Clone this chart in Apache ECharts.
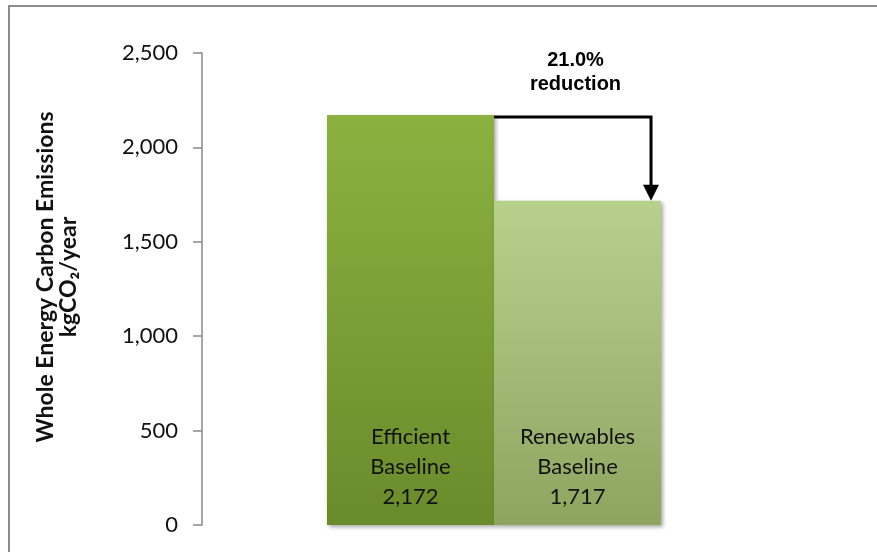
<!DOCTYPE html>
<html>
<head>
<meta charset="utf-8">
<script src="https://cdn.jsdelivr.net/npm/echarts@6/dist/echarts.min.js"></script>
<style>
  html, body { margin: 0; padding: 0; background: #fff; }
  #chart { width: 877px; height: 552px; }
</style>
</head>
<body>
<div id="chart"></div>
<script>
// Annual whole-energy carbon emissions for the two baselines
const seriesNames = ['Efficient\nBaseline', 'Renewables\nBaseline'];
const emissions = [2172, 1717];
const reductionPct = 21.0;
const yTicks = [0, 500, 1000, 1500, 2000, 2500];

const FONT = 'Lato, "Open Sans", sans-serif';
const fmt = v => v.toLocaleString('en-US');

const gradients = [
  ['#8cb140', '#6a8b2b'],
  ['#b7d18c', '#8ea560']
];

const chart = echarts.init(document.getElementById('chart'), null, { renderer: 'canvas' });

const series = emissions.map((v, i) => ({
  name: seriesNames[i],
  type: 'bar',
  data: [v],
  barGap: '0%',
  barCategoryGap: '42.8%',
  itemStyle: {
    color: new echarts.graphic.LinearGradient(0, 0, 0, 1, [
      { offset: 0, color: gradients[i][0] },
      { offset: 1, color: gradients[i][1] }
    ]),
    shadowColor: 'rgba(0,0,0,0.35)',
    shadowBlur: 4,
    shadowOffsetX: 2,
    shadowOffsetY: 2
  },
  label: {
    show: true,
    position: 'insideBottom',
    distance: 13,
    formatter: p => p.seriesName + '\n' + fmt(p.value),
    fontFamily: FONT,
    fontSize: 22,
    lineHeight: 30,
    color: '#111'
  }
}));

chart.setOption({
  animation: false,
  backgroundColor: '#fff',
  grid: { left: 202, right: 91, top: 53, bottom: 27, containLabel: false },
  xAxis: {
    type: 'category',
    data: ['Baselines'],
    axisLine: { show: false },
    axisTick: { show: false },
    axisLabel: { show: false }
  },
  yAxis: {
    type: 'value',
    min: yTicks[0],
    max: yTicks[yTicks.length - 1],
    interval: yTicks[1] - yTicks[0],
    splitLine: { show: false },
    axisLine: { show: true, lineStyle: { color: '#888', width: 1.5 } },
    axisTick: { show: true, inside: false, length: 9, lineStyle: { color: '#888', width: 1.5 } },
    axisLabel: {
      margin: 24,
      fontFamily: FONT,
      fontSize: 22,
      color: '#111',
      formatter: v => fmt(v)
    }
  },
  series: series
});

// Frame, axis title and the reduction arrow between the two bar tops
function drawOverlay() {
  const l0 = chart.getModel().getSeriesByIndex(0).getData().getItemLayout(0);
  const l1 = chart.getModel().getSeriesByIndex(1).getData().getItemLayout(0);
  const yTop = chart.convertToPixel({ yAxisIndex: 0 }, emissions[0]);
  const yLow = chart.convertToPixel({ yAxisIndex: 0 }, emissions[1]);
  const xStart = l0.x + l0.width - 6;
  const xEnd = l1.x + l1.width - 10;
  const titleCy = (chart.convertToPixel({ yAxisIndex: 0 }, yTicks[0]) +
                   chart.convertToPixel({ yAxisIndex: 0 }, yTicks[yTicks.length - 1])) / 2 - 12;

  chart.setOption({
    graphic: [
      { type: 'polyline', silent: true,
        shape: { points: [[9, 552], [9, 6], [877, 6]] },
        style: { stroke: '#8c8c8c', lineWidth: 2, fill: null } },
      { type: 'text', silent: true, x: 57, y: titleCy, rotation: Math.PI / 2,
        style: { text: 'Whole Energy Carbon Emissions\nkgCO₂/year', fontFamily: FONT,
                 fontWeight: 'bold', fontSize: 23, lineHeight: 23, align: 'center',
                 verticalAlign: 'middle', fill: '#111' } },
      { type: 'polyline', silent: true,
        shape: { points: [[xStart, yTop + 2], [xEnd, yTop + 2], [xEnd, yLow - 14]] },
        style: { stroke: '#000', lineWidth: 3, fill: null } },
      { type: 'polygon', silent: true,
        shape: { points: [[xEnd - 8, yLow - 16], [xEnd + 8, yLow - 16], [xEnd, yLow]] },
        style: { fill: '#000' } },
      { type: 'text', silent: true, x: (xStart + xEnd) / 2 + 6, y: 72,
        style: { text: reductionPct.toFixed(1) + '%\nreduction',
                 fontFamily: '"Liberation Sans", Arial, sans-serif',
                 fontWeight: 'bold', fontSize: 20, lineHeight: 24, align: 'center',
                 verticalAlign: 'middle', fill: '#000' } }
    ]
  });
}
drawOverlay();
</script>
</body>
</html>
